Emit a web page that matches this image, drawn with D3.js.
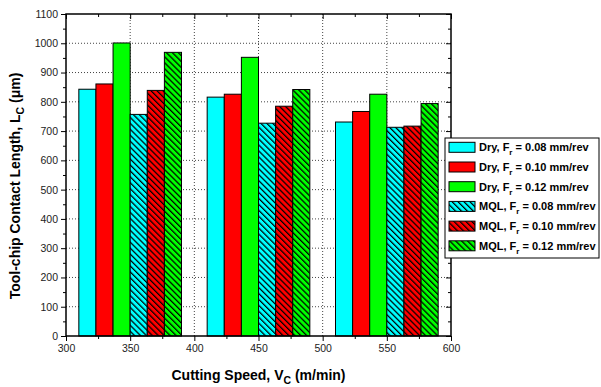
<!DOCTYPE html>
<html><head><meta charset="utf-8">
<script src="https://cdn.jsdelivr.net/npm/d3@7"></script>
<style>body{margin:0;background:#fff}svg{display:block;font-family:"Liberation Sans",Arial,sans-serif}</style>
</head><body><svg id="c" width="601" height="387"></svg>
<script>
// ---- data ----
const speeds = [350, 450, 550];
const dry008 = [843, 816, 731];
const dry010 = [861, 826, 767];
const dry012 = [1001, 952, 826];
const mql008 = [757, 727, 713];
const mql010 = [839, 785, 717];
const mql012 = [969, 842, 794];
const seriesNames = ["Dry", "Dry", "Dry", "MQL", "MQL", "MQL"];
const feeds = ["0.08", "0.10", "0.12", "0.08", "0.10", "0.12"];
const seriesColors = ["#00FFFF", "#FF0000", "#00FF00", "#00FFFF", "#FF0000", "#00FF00"];
const seriesHatched = [false, false, false, true, true, true];
const seriesValues = [dry008, dry010, dry012, mql008, mql010, mql012];
const yTicks = d3.range(0, 1101, 100);
const xTicks = d3.range(300, 601, 50);

const svg = d3.select("#c");
const L = 66, R = 451, T = 14, B = 336;
const x = d3.scaleLinear().domain([300, 600]).range([L, R]);
const y = d3.scaleLinear().domain([0, 1100]).range([B, T]);
const groupWidth = 80, nS = seriesValues.length, bw = groupWidth / nS;

// patterns
const defs = svg.append("defs");
seriesColors.forEach((c, i) => {
  if (!seriesHatched[i]) return;
  const p = defs.append("pattern").attr("id", "h" + i).attr("patternUnits", "userSpaceOnUse")
    .attr("width", 4.2).attr("height", 10).attr("patternTransform", "rotate(-45)");
  p.append("rect").attr("width", 4.2).attr("height", 10).attr("fill", c);
  p.append("line").attr("x1", 0.6).attr("x2", 0.6).attr("y1", 0).attr("y2", 10)
    .attr("stroke", "#000").attr("stroke-width", 1.3);
});
const fillOf = i => seriesHatched[i] ? `url(#h${i})` : seriesColors[i];

// grid
const grid = svg.append("g");
yTicks.filter(v => v > 0 && v < 1100).forEach(v => grid.append("line")
  .attr("x1", L).attr("x2", R).attr("y1", y(v)).attr("y2", y(v)));
xTicks.filter(v => v > 300 && v < 600).forEach(v => grid.append("line")
  .attr("x1", x(v)).attr("x2", x(v)).attr("y1", T).attr("y2", B));
grid.selectAll("line").attr("stroke", "#444").attr("stroke-width", 1).attr("stroke-dasharray", "1,2");

// bars
seriesValues.forEach((vals, i) => {
  svg.append("g").selectAll("rect").data(vals).join("rect")
    .attr("x", (d, j) => x(speeds[j] - groupWidth / 2 + i * bw))
    .attr("width", (d, j) => x(speeds[j] - groupWidth / 2 + (i + 1) * bw) - x(speeds[j] - groupWidth / 2 + i * bw))
    .attr("y", d => y(d)).attr("height", d => y(0) - y(d))
    .attr("fill", fillOf(i)).attr("stroke", "#000").attr("stroke-width", 1);
});

// axes
const fmt = d3.format("d");
function styleAxis(g) { g.select(".domain").remove(); g.selectAll("line").attr("stroke", "#000").attr("stroke-width", 1); }
const yMinor = d3.range(50, 1100, 100), xMinor = d3.range(325, 600, 50);
svg.append("g").attr("transform", `translate(${L},0)`)
  .call(d3.axisLeft(y).tickValues(yTicks).tickFormat(fmt).tickSize(5).tickPadding(3))
  .call(styleAxis).call(g => g.selectAll("text").attr("font-size", 10.5).attr("fill", "#222").attr("font-family", "Liberation Sans, Arial"));
svg.append("g").attr("transform", `translate(${L},0)`)
  .call(d3.axisLeft(y).tickValues(yMinor).tickSize(3).tickFormat("")).call(styleAxis);
svg.append("g").attr("transform", `translate(0,${B})`)
  .call(d3.axisBottom(x).tickValues(xTicks).tickFormat(fmt).tickSize(5).tickPadding(4))
  .call(styleAxis).call(g => g.selectAll("text").attr("font-size", 10.5).attr("fill", "#222").attr("font-family", "Liberation Sans, Arial"));
svg.append("g").attr("transform", `translate(0,${B})`)
  .call(d3.axisBottom(x).tickValues(xMinor).tickSize(3).tickFormat("")).call(styleAxis);
// mirror (inward)
svg.append("g").attr("transform", `translate(0,${T})`)
  .call(d3.axisBottom(x).tickValues(xTicks).tickSize(5).tickFormat("")).call(styleAxis);
svg.append("g").attr("transform", `translate(0,${T})`)
  .call(d3.axisBottom(x).tickValues(xMinor).tickSize(3).tickFormat("")).call(styleAxis);
svg.append("g").attr("transform", `translate(${R},0)`)
  .call(d3.axisLeft(y).tickValues(yTicks).tickSize(5).tickFormat("")).call(styleAxis);
svg.append("g").attr("transform", `translate(${R},0)`)
  .call(d3.axisLeft(y).tickValues(yMinor).tickSize(3).tickFormat("")).call(styleAxis);

// frame
svg.append("rect").attr("x", L).attr("y", T).attr("width", R - L).attr("height", B - T)
  .attr("fill", "none").attr("stroke", "#000").attr("stroke-width", 1.5);

// titles
const xt = svg.append("text").attr("x", (L + R) / 2).attr("y", 380).attr("text-anchor", "middle")
  .attr("font-size", 14).attr("font-weight", "bold");
xt.append("tspan").text("Cutting Speed, V");
xt.append("tspan").attr("dy", 4).attr("font-size", 10.5).text("C");
xt.append("tspan").attr("dy", -4).text(" (m/min)");

const yt = svg.append("text").attr("transform", `translate(20,186) rotate(-90)`)
  .attr("text-anchor", "middle").attr("font-size", 14).attr("font-weight", "bold");
yt.append("tspan").text("Tool-chip Contact Length, L");
yt.append("tspan").attr("dy", 4).attr("font-size", 10.5).text("C");
yt.append("tspan").attr("dy", -4).text(" (\u03bcm)");

// legend
const lg = svg.append("g");
lg.append("rect").attr("x", 445).attr("y", 138).attr("width", 154).attr("height", 120)
  .attr("fill", "#fff").attr("stroke", "#000").attr("stroke-width", 1);
seriesValues.forEach((v, i) => {
  const cy = 147.3 + i * 19.7;
  lg.append("rect").attr("x", 449).attr("y", cy - 5).attr("width", 26).attr("height", 10)
    .attr("fill", fillOf(i)).attr("stroke", "#000").attr("stroke-width", 1);
  const t = lg.append("text").attr("x", 479).attr("y", cy + 4).attr("font-size", 11).attr("font-weight", "bold");
  t.append("tspan").text(seriesNames[i] + ", F");
  t.append("tspan").attr("dy", 4).attr("font-size", 8).text("r");
  t.append("tspan").attr("dy", -4).text(" = " + feeds[i] + " mm/rev");
});
</script></body></html>
